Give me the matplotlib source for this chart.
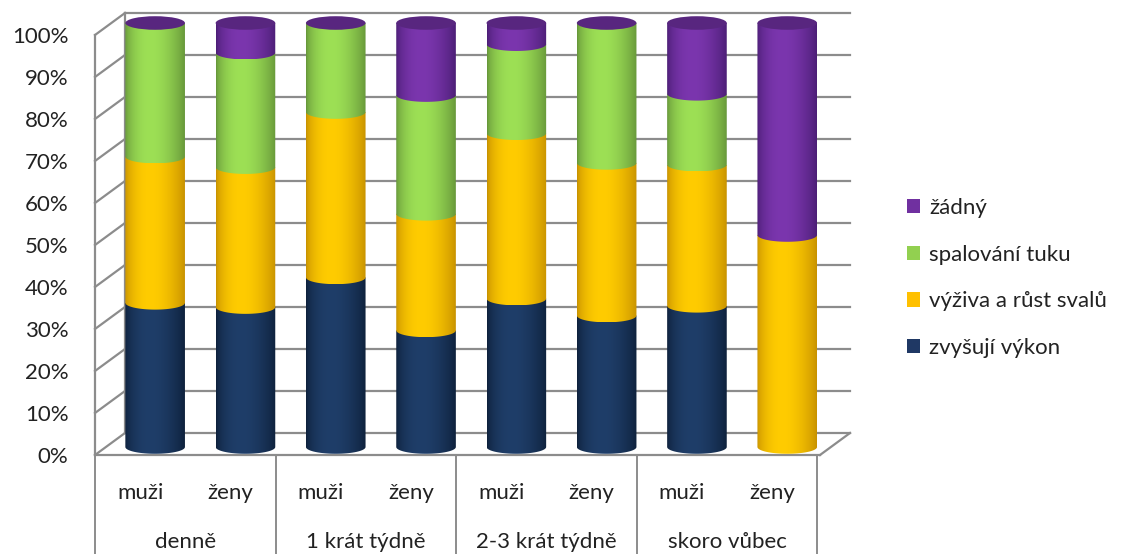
import numpy as np
import matplotlib.pyplot as plt
from matplotlib.patches import Patch, PathPatch, Ellipse
from matplotlib.path import Path
from matplotlib.colors import to_rgb
from matplotlib.ticker import PercentFormatter
import matplotlib.transforms as mtransforms

plt.rcParams['font.family'] = ['Lato', 'DejaVu Sans']

# data (percent of respondents, stacked bottom -> top)
groups = ["denně", "1 krát týdně", "2-3 krát týdně", "skoro vůbec"]
genders = ["muži", "ženy"]
series_names = ["zvyšují výkon", "výživa a růst svalů", "spalování tuku", "žádný"]
zvysuji_vykon = [34, 33, 40, 27.5, 35, 31, 33.3, 0]
vyziva_rust = [34.5, 33, 39, 27.5, 39, 36, 33.3, 50]
spalovani_tuku = [31.5, 27, 21, 28, 21, 33, 16.7, 0]
zadny = [0, 7, 0, 17, 5, 0, 16.7, 50]
y_ticks = list(range(0, 101, 10))

# (edge shade, highlight) for each series
shades = [("#0e213c", "#1f3e69"),
          ("#c89200", "#ffcc00"),
          ("#67973a", "#9de055"),
          ("#4c1e76", "#7b36ae")]
swatch = ["#1f3864", "#ffc000", "#92d050", "#7030a0"]
cap_color = "#58267f"
grid_color = "#8c8c8c"
text_color = "#222222"
fs = 16

W, H = 1127, 554
fig = plt.figure(figsize=(W / 100, H / 100), dpi=100)


def px_axes(x0, x1, yb, yt, **kw):
    return fig.add_axes([x0 / W, 1 - yb / H, (x1 - x0) / W, (yb - yt) / H], **kw)


# --- 3d box: back wall, left wall, floor (pixel space) ---
box = px_axes(0, W, H, 0)
box.set_xlim(0, W)
box.set_ylim(H, 0)
box.axis("off")
fx, fy0, fy1 = 95, 455, 35       # front axis
dx, dy = 30, -22                 # depth offset
right_front = 820
step = (fy0 - fy1) / 100
for v in y_ticks:
    y = fy0 - v * step
    box.plot([fx + dx, 850], [y + dy, y + dy], color=grid_color, lw=1.6)
    box.plot([fx, fx + dx], [y, y + dy], color=grid_color, lw=1.6)
box.plot([fx + dx, fx + dx], [fy0 + dy, fy1 + dy], color=grid_color, lw=1.6)
box.plot([fx, fx], [fy0, fy1], color=grid_color, lw=1.6)
box.plot([fx, right_front], [fy0, fy0], color=grid_color, lw=1.6)
box.plot([right_front, right_front + dx], [fy0, fy0 + dy], color=grid_color, lw=1.6)

# --- y tick labels on the front axis ---
front = px_axes(fx, fx + 1, fy0, fy1)
front.set_ylim(0, 100)
front.set_yticks(y_ticks)
front.yaxis.set_major_formatter(PercentFormatter(decimals=0))
front.tick_params(axis="y", length=0, pad=19, labelsize=fs, labelcolor=text_color)
front.set_xticks([])
for s in front.spines.values():
    s.set_visible(False)
front.patch.set_visible(False)

# --- cylinders ---
# 4.24 px per percent; limits padded so caps and bottom arcs are not clipped
pad = 4
ax = px_axes(110, 832.4, 447 + pad * 4.24, 23 - pad * 4.24)
ax.patch.set_visible(False)
n = len(zvysuji_vykon)
bw = 0.66
ry = 1.6
profile_t = np.linspace(0, 1, 64)
profile = np.sin(np.pi * profile_t ** 0.8) ** 0.8


def gradient(edge, mid):
    e, m = np.array(to_rgb(edge)), np.array(to_rgb(mid))
    return (e + (m - e) * profile[:, None])[None, :, :]


stack = np.array([zvysuji_vykon, vyziva_rust, spalovani_tuku, zadny])
arc = np.linspace(np.pi, 2 * np.pi, 40)
for i in range(n):
    bottom = 0.0
    for k in range(len(stack)):
        h = stack[k, i]
        if h <= 0:
            continue
        x0, x1 = i - bw / 2, i + bw / 2
        top = bottom + h
        pts = [(x0, top), (x0, bottom)]
        pts += list(zip(i + bw / 2 * np.cos(arc), bottom + ry * np.sin(arc)))
        pts += [(x1, bottom), (x1, top), (x0, top)]
        clip = PathPatch(Path(pts, closed=True), transform=ax.transData,
                         facecolor="none", edgecolor="none")
        ax.add_patch(clip)
        im = ax.imshow(gradient(*shades[k]), extent=[x0, x1, bottom - ry, top],
                       aspect="auto", origin="lower", interpolation="bilinear",
                       zorder=2 + k * 0.01)
        im.set_clip_path(clip)
        bottom = top
    ax.add_patch(Ellipse((i, bottom), bw, 2 * ry, facecolor=cap_color,
                         edgecolor="none", zorder=3))

ax.set_xlim(-0.5, n - 0.5)
ax.set_ylim(-pad, 100 + pad)
for s in ax.spines.values():
    s.set_visible(False)
ax.set_yticks([])
ax.set_xticks(range(n), genders * len(groups))
ax.tick_params(axis="x", length=0, pad=14, labelsize=fs, labelcolor=text_color)
shift = mtransforms.ScaledTranslation(-15 / 100, 0, fig.dpi_scale_trans)
for lab in ax.get_xticklabels():
    lab.set_transform(lab.get_transform() + shift)

# group labels and separators on the category axis (axes-fraction y from pixels)
ax_h = 424 + 2 * pad * 4.24
ax_bottom_px = 447 + pad * 4.24
cat = mtransforms.blended_transform_factory(ax.transData, ax.transAxes) + shift
for g, name in enumerate(groups):
    ax.text(2 * g + 0.5, (ax_bottom_px - 542) / ax_h, name, transform=cat,
            ha="center", va="center", fontsize=fs, color=text_color)
for g in range(len(groups) + 1):
    xs = 2 * g - 0.5
    ax.plot([xs, xs], [(ax_bottom_px - 455) / ax_h, (ax_bottom_px - 560) / ax_h],
            transform=cat, color=grid_color, lw=1.4, clip_on=False)

# legend, top series first
handles = [Patch(facecolor=swatch[k], edgecolor="none", label=series_names[k])
           for k in reversed(range(len(series_names)))]
fig.legend(handles=handles, loc="upper left", bbox_to_anchor=(887 / W, 1 - 178 / H),
           frameon=False, fontsize=fs, handlelength=0.6, handleheight=0.6,
           handletextpad=0.4, labelspacing=1.2, labelcolor=text_color)

fig.savefig("out.png", dpi=100)
